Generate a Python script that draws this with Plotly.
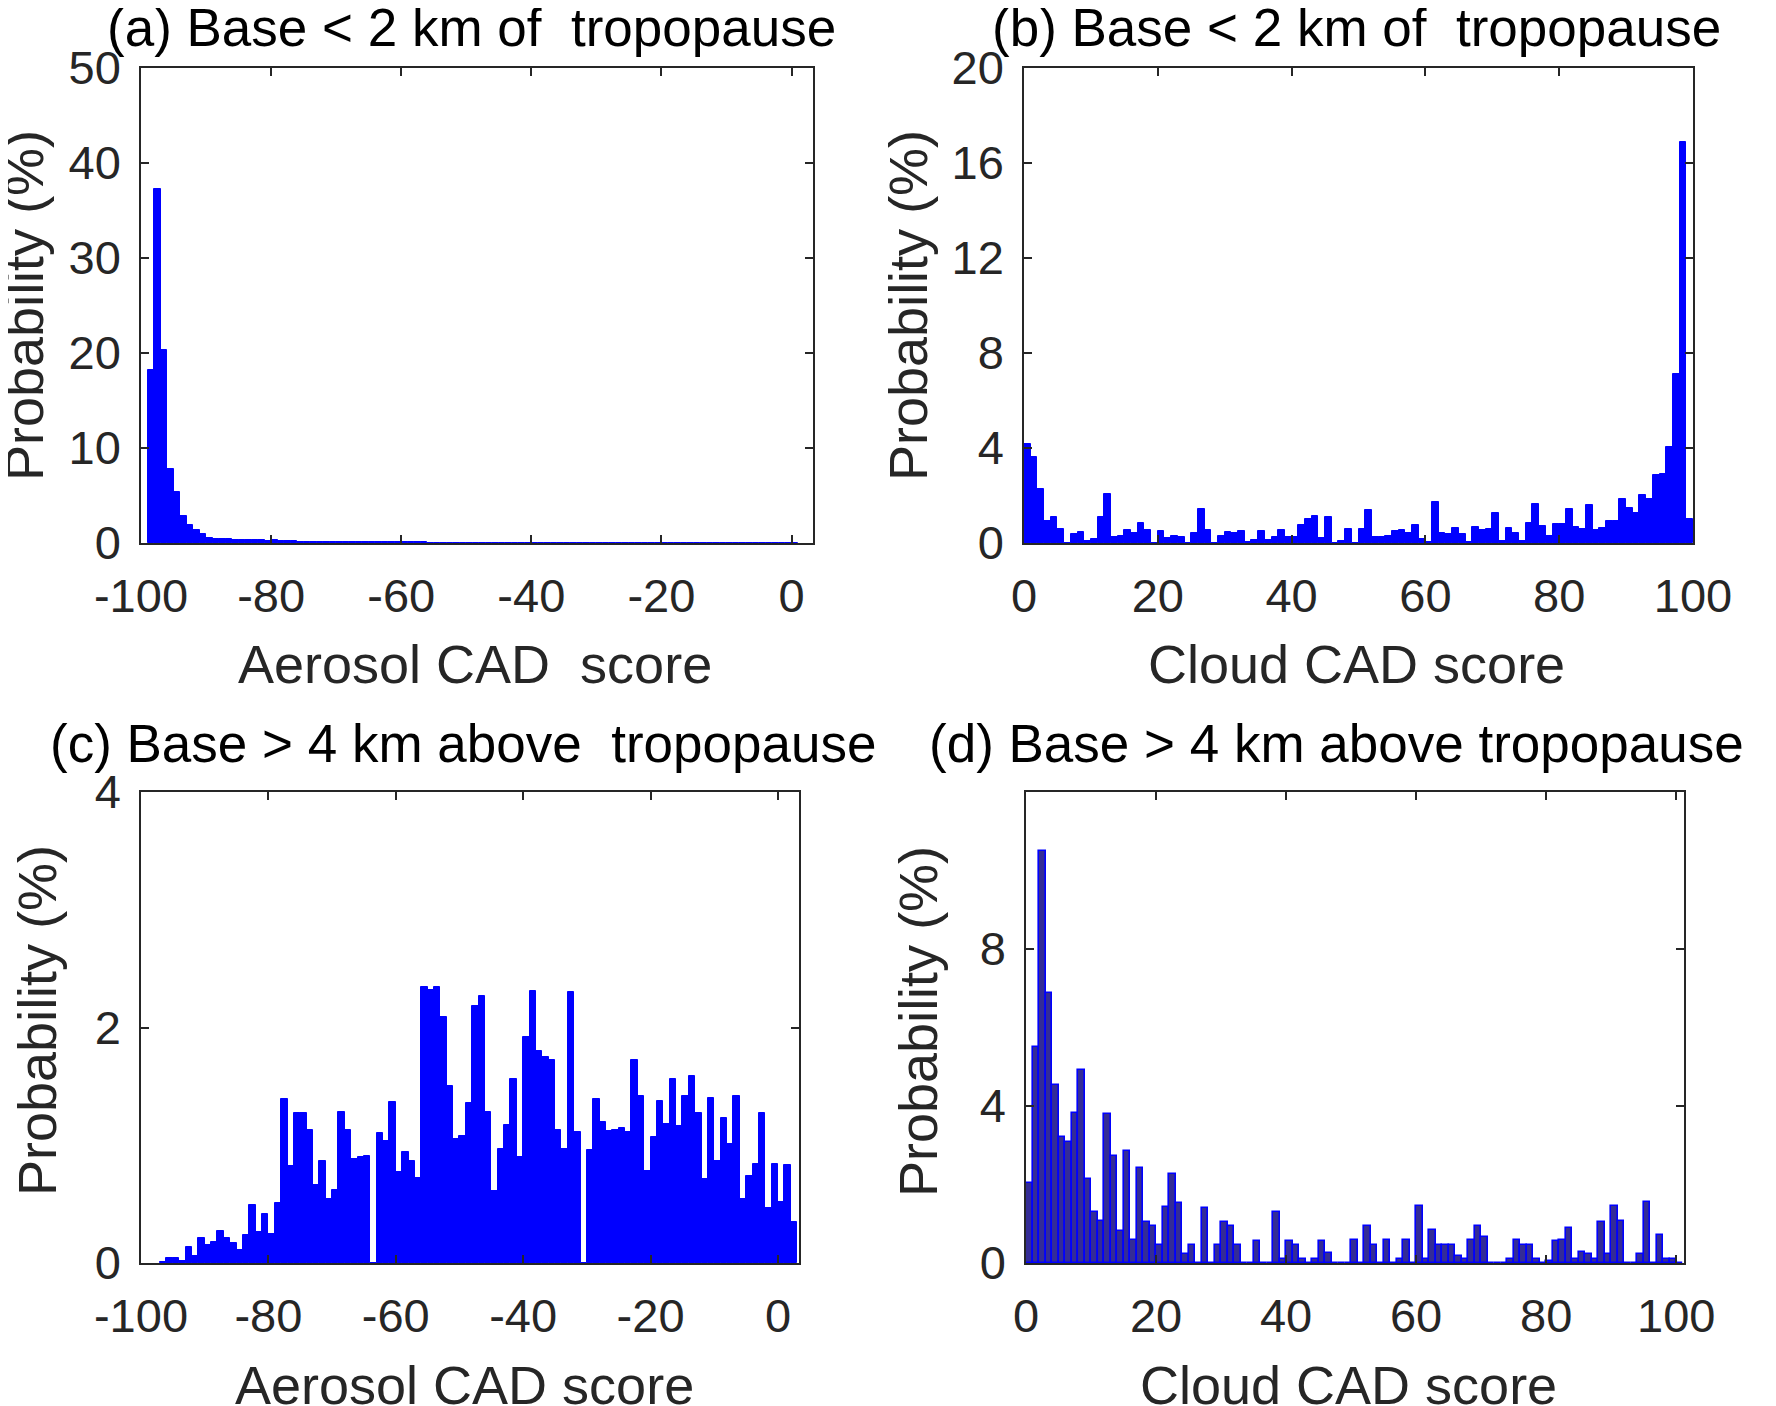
import plotly.graph_objects as go

# ---------------- data ----------------
# (a) Aerosol CAD score, base < 2 km of tropopause; bins [-99,-98] ... [0,1]
a_left_edge = -99
a_vals = [18.2, 37.3, 20.3, 7.8, 5.4, 2.8, 1.9, 1.4, 0.9, 0.56,
          0.46, 0.46, 0.40, 0.35, 0.35, 0.30, 0.30, 0.30, 0.20, 0.28,
          0.20, 0.20, 0.18, 0.15, 0.15, 0.14, 0.12, 0.12, 0.10, 0.10,
          0.10, 0.09, 0.09, 0.08, 0.08, 0.08, 0.07, 0.07, 0.07, 0.06,
          0.06, 0.06, 0.06, 0.05, 0.05, 0.05, 0.05, 0.05, 0.04, 0.04,
          0.04, 0.04, 0.04, 0.04, 0.04, 0.03, 0.03, 0.03, 0.03, 0.03,
          0.03, 0.03, 0.03, 0.03, 0.03, 0.03, 0.03, 0.03, 0.03, 0.03,
          0.03, 0.03, 0.03, 0.03, 0.03, 0.03, 0.03, 0.03, 0.03, 0.03,
          0.03, 0.03, 0.03, 0.03, 0.03, 0.03, 0.03, 0.03, 0.03, 0.03,
          0.03, 0.03, 0.03, 0.03, 0.03, 0.03, 0.03, 0.03, 0.03, 0.03]

# (b) Cloud CAD score, base < 2 km of tropopause; bins [0,1] ... [99,100]
b_left_edge = 0
b_vals = [4.17, 3.63, 2.27, 0.93, 1.10, 0.60, 0.02, 0.39, 0.45, 0.07,
          0.15, 1.10, 2.06, 0.25, 0.30, 0.56, 0.41, 0.86, 0.56, 0.02,
          0.50, 0.20, 0.31, 0.25, 0.02, 0.44, 1.45, 0.56, 0.02, 0.30,
          0.45, 0.41, 0.50, 0.06, 0.11, 0.50, 0.11, 0.25, 0.56, 0.25,
          0.25, 0.76, 1.03, 1.15, 0.21, 1.10, 0.02, 0.10, 0.60, 0.02,
          0.60, 1.41, 0.25, 0.25, 0.31, 0.50, 0.53, 0.44, 0.77, 0.18,
          0.04, 1.73, 0.44, 0.39, 0.63, 0.37, 0.04, 0.68, 0.53, 0.59,
          1.27, 0.07, 0.63, 0.42, 0.07, 0.86, 1.63, 0.72, 0.28, 0.82,
          0.82, 1.42, 0.68, 0.59, 1.62, 0.53, 0.63, 0.93, 0.93, 1.87,
          1.48, 1.28, 2.03, 1.85, 2.85, 2.90, 4.06, 7.10, 16.90, 1.03]

# (c) Aerosol CAD score, base > 4 km above tropopause; bins [-97,-96] ... [2,3]
c_left_edge = -97
c_vals = [0.01, 0.04, 0.04, 0.02, 0.14, 0.06, 0.21, 0.15, 0.18, 0.27,
          0.21, 0.17, 0.11, 0.24, 0.49, 0.26, 0.42, 0.25, 0.51, 1.39,
          0.82, 1.27, 1.27, 1.13, 0.66, 0.87, 0.54, 0.62, 1.28, 1.13,
          0.88, 0.90, 0.91, 0.00, 1.10, 1.04, 1.37, 0.77, 0.94, 0.87,
          0.72, 2.34, 2.32, 2.34, 2.09, 1.50, 1.05, 1.08, 1.36, 2.18,
          2.27, 1.28, 0.61, 0.97, 1.17, 1.56, 0.90, 1.92, 2.31, 1.80,
          1.75, 1.72, 1.13, 0.97, 2.30, 1.11, 0.00, 0.96, 1.39, 1.20,
          1.12, 1.13, 1.15, 1.11, 1.72, 1.42, 0.78, 1.07, 1.38, 1.18,
          1.56, 1.16, 1.42, 1.59, 1.27, 0.71, 1.40, 0.87, 1.23, 1.01,
          1.42, 0.54, 0.74, 0.84, 1.27, 0.47, 0.84, 0.52, 0.83, 0.35]

# (d) Cloud CAD score, base > 4 km above tropopause; bins [0,1] ... [100,101]
d_left_edge = 0
d_vals = [2.04, 5.51, 10.50, 6.87, 4.53, 3.21, 3.09, 3.83, 4.91, 2.15,
          1.29, 1.06, 3.80, 2.72, 0.81, 2.85, 0.58, 2.43, 1.05, 0.94,
          0.47, 1.42, 2.26, 1.53, 0.23, 0.45, 0.00, 1.40, 0.00, 0.45,
          1.05, 0.94, 0.45, 0.00, 0.00, 0.57, 0.00, 0.00, 1.29, 0.10,
          0.57, 0.45, 0.09, 0.00, 0.09, 0.57, 0.26, 0.00, 0.00, 0.00,
          0.59, 0.00, 0.95, 0.47, 0.00, 0.59, 0.00, 0.10, 0.59, 0.00,
          1.44, 0.10, 0.83, 0.47, 0.47, 0.47, 0.17, 0.10, 0.59, 0.95,
          0.65, 0.00, 0.00, 0.00, 0.10, 0.59, 0.47, 0.47, 0.10, 0.00,
          0.05, 0.55, 0.59, 0.89, 0.10, 0.29, 0.23, 0.10, 1.04, 0.23,
          1.44, 1.06, 0.00, 0.00, 0.23, 1.55, 0.00, 0.71, 0.10, 0.10,
          0.00]

titles = ["(a) Base &lt; 2 km of&nbsp; tropopause",
          "(b) Base &lt; 2 km of&nbsp; tropopause",
          "(c) Base &gt; 4 km above&nbsp; tropopause",
          "(d) Base &gt; 4 km above tropopause"]
xlabels = ["Aerosol CAD&nbsp; score", "Cloud CAD score",
           "Aerosol CAD score", "Cloud CAD score"]
ylabel = "Probability (%)"

x_ranges = [[-100, 3.3], [0, 100], [-100, 3.3], [0, 101.2]]
x_ticks = [[-100, -80, -60, -40, -20, 0], [0, 20, 40, 60, 80, 100],
           [-100, -80, -60, -40, -20, 0], [0, 20, 40, 60, 80, 100]]
x_ticktext = [["-100", "-80", "-60", "-40", "-20", "0"], ["0", "20", "40", "60", "80", "100"],
              ["-100", "-80", "-60", "-40", "-20", "0"], ["0", "20", "40", "60", "80", "100"]]
y_ranges = [[0, 50], [0, 20], [0, 4], [0, 12]]
y_ticks = [[0, 10, 20, 30, 40, 50], [0, 4, 8, 12, 16, 20], [0, 2, 4], [0, 4, 8]]

# ---------------- layout geometry (figure pixels; page adds an 8 px body margin) ----------------
W, H = 1768, 1398
panels_px = [  # left, right, top, bottom
    (133, 805, 60, 535),
    (1016, 1685, 60, 535),
    (133, 791, 784, 1255),
    (1018, 1676, 784, 1255),
]
title_pos = [(463, 19), (1348, 19), (455, 735), (1328, 735)]
xlabel_pos = [(467, 656), (1348, 656), (456, 1377), (1340, 1377)]
ylabel_pos = [(16, 298), (900, 298), (29, 1013), (910, 1013)]

fig = go.Figure()

series = [(a_left_edge, a_vals), (b_left_edge, b_vals),
          (c_left_edge, c_vals), (d_left_edge, d_vals)]

for i, (edge, vals) in enumerate(series):
    centers = [edge + k + 0.5 for k in range(len(vals))]
    if i == 3:
        marker = dict(color="rgb(52,44,150)", line=dict(color="rgb(0,0,255)", width=1.6))
    else:
        marker = dict(color="rgb(0,0,255)", line=dict(color="rgb(0,0,255)", width=1))
    sfx = "" if i == 0 else str(i + 1)
    fig.add_trace(go.Bar(x=centers, y=vals, width=1, marker=marker,
                         xaxis="x" + sfx, yaxis="y" + sfx,
                         showlegend=False, hoverinfo="x+y"))

axis_common = dict(showline=True, linecolor="#262626", linewidth=1.5, mirror="ticks",
                   ticks="inside", ticklen=8, tickwidth=1.5, tickcolor="#262626",
                   showgrid=False, zeroline=False, automargin=False,
                   tickfont=dict(family="Liberation Sans, Arial, sans-serif",
                                 size=47, color="#262626"))

layout = {}
for i, (l, r, t, b) in enumerate(panels_px):
    sfx = "" if i == 0 else str(i + 1)
    layout["xaxis" + sfx] = dict(axis_common, domain=[l / W, r / W],
                                 range=x_ranges[i], tickvals=x_ticks[i],
                                 ticktext=x_ticktext[i],
                                 anchor="y" + sfx, ticklabelstandoff=11)
    layout["yaxis" + sfx] = dict(axis_common, domain=[1 - b / H, 1 - t / H],
                                 range=y_ranges[i], tickvals=y_ticks[i],
                                 anchor="x" + sfx, ticklabelstandoff=9)

annotations = []
font_big = dict(family="Liberation Sans, Arial, sans-serif", size=53, color="#000000")
font_lab = dict(family="Liberation Sans, Arial, sans-serif", size=54, color="#262626")
for i in range(4):
    tx, ty = title_pos[i]
    annotations.append(dict(text=titles[i], x=tx / W, y=1 - ty / H, xref="paper", yref="paper",
                            xanchor="center", yanchor="middle", showarrow=False, font=font_big))
    lx, ly = xlabel_pos[i]
    annotations.append(dict(text=xlabels[i], x=lx / W, y=1 - ly / H, xref="paper", yref="paper",
                            xanchor="center", yanchor="middle", showarrow=False, font=font_lab))
    yx, yy = ylabel_pos[i]
    annotations.append(dict(text=ylabel, x=yx / W, y=1 - yy / H, xref="paper", yref="paper",
                            xanchor="center", yanchor="middle", showarrow=False,
                            textangle=-90, font=font_lab))

fig.update_layout(width=W, height=H, margin=dict(l=0, r=0, t=0, b=0, autoexpand=False),
                  paper_bgcolor="white", plot_bgcolor="white",
                  annotations=annotations, bargap=0, **layout)

fig.write_html("out.html")
